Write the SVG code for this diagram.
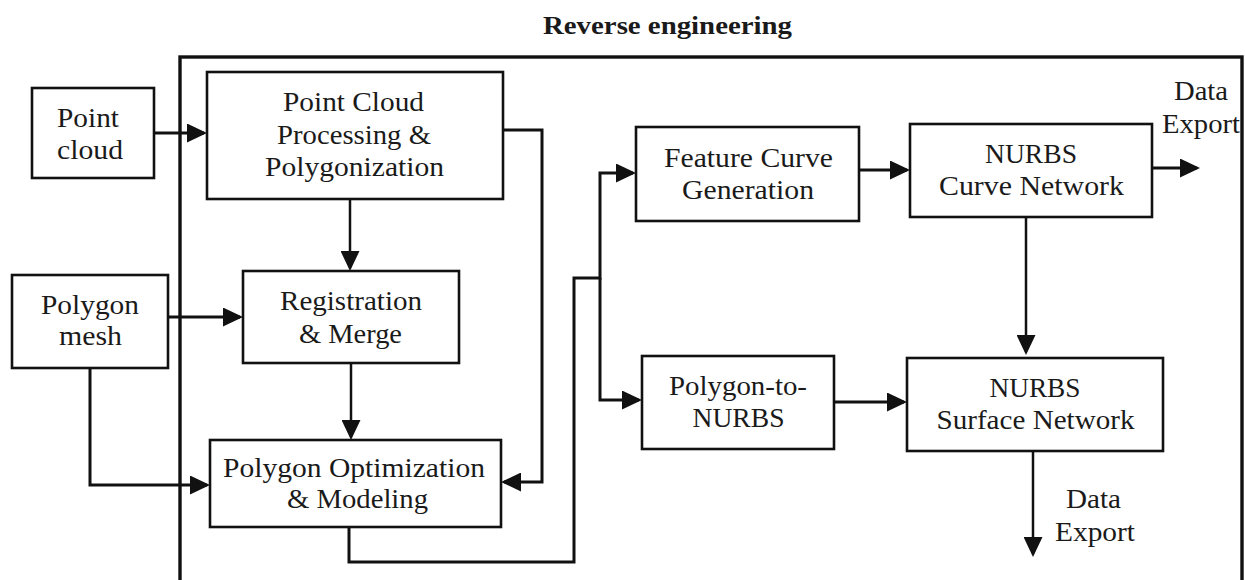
<svg xmlns="http://www.w3.org/2000/svg" width="1245" height="580" viewBox="0 0 1245 580">
  <style>
    .box { fill: #ffffff; stroke: #111111; stroke-width: 2.6; }
    .frame { fill: none; stroke: #111111; stroke-width: 3.4; }
    .t { font-family: "Liberation Serif", "Times New Roman", serif; font-size: 27px; fill: #1a1a1a; text-anchor: middle; }
    .title { font-family: "Liberation Serif", "Times New Roman", serif; font-size: 25px; font-weight: bold; fill: #1a1a1a; text-anchor: middle; }
    .c { fill: none; stroke: #111111; stroke-width: 3; stroke-linejoin: miter; }
    .cv { fill: none; stroke: #111111; stroke-width: 2.5; }
  </style>
  <defs>
    <marker id="ah" markerUnits="userSpaceOnUse" markerWidth="20" markerHeight="19" refX="17" refY="9.5" orient="auto">
      <path d="M0,0 L20,9.5 L0,19 Z" fill="#111111"/>
    </marker>
  </defs>
  <rect width="1245" height="580" fill="#ffffff"/>

  <text class="title" x="667.5" y="34" textLength="249" lengthAdjust="spacingAndGlyphs">Reverse engineering</text>

  <rect id="frame" class="frame" x="180" y="57" width="1062" height="560"/>

  <g id="connectors">
    <path class="c" d="M154,133 H204" marker-end="url(#ah)"/>
    <path class="cv" d="M350,199 V268" marker-end="url(#ah)"/>
    <path class="c" d="M168,317 H240" marker-end="url(#ah)"/>
    <path class="cv" d="M351,363 V437" marker-end="url(#ah)"/>
    <path class="c" d="M90,368 V485 H207" marker-end="url(#ah)"/>
    <path class="c" d="M503,130 H542 V482 H504" marker-end="url(#ah)"/>
    <path class="c" d="M349,527 V562 H574 V278 H600 V173 H633" marker-end="url(#ah)"/>
    <path class="c" d="M600,278 V400 H639" marker-end="url(#ah)"/>
    <path class="c" d="M859,170 H907" marker-end="url(#ah)"/>
    <path class="c" d="M1152,168 H1197" marker-end="url(#ah)"/>
    <path class="cv" d="M1026,217 V352" marker-end="url(#ah)"/>
    <path class="c" d="M834,402 H904" marker-end="url(#ah)"/>
    <path class="cv" d="M1033,451 V554" marker-end="url(#ah)"/>
  </g>

  <g id="point-cloud">
    <rect class="box" x="32" y="88" width="122" height="90"/>
    <text class="t" x="88" y="127" textLength="62" lengthAdjust="spacingAndGlyphs">Point</text>
    <text class="t" x="90" y="159" textLength="66" lengthAdjust="spacingAndGlyphs">cloud</text>
  </g>

  <g id="point-cloud-processing">
    <rect class="box" x="207" y="72" width="296" height="127"/>
    <text class="t" x="353.5" y="111" textLength="141" lengthAdjust="spacingAndGlyphs">Point Cloud</text>
    <text class="t" x="354" y="144" textLength="154" lengthAdjust="spacingAndGlyphs">Processing &amp;</text>
    <text class="t" x="354.5" y="176" textLength="179" lengthAdjust="spacingAndGlyphs">Polygonization</text>
  </g>

  <g id="polygon-mesh">
    <rect class="box" x="12" y="275" width="156" height="93"/>
    <text class="t" x="90" y="314" textLength="98" lengthAdjust="spacingAndGlyphs">Polygon</text>
    <text class="t" x="90.5" y="345" textLength="63" lengthAdjust="spacingAndGlyphs">mesh</text>
  </g>

  <g id="registration-merge">
    <rect class="box" x="243" y="271" width="216" height="92"/>
    <text class="t" x="351" y="310" textLength="142" lengthAdjust="spacingAndGlyphs">Registration</text>
    <text class="t" x="350.5" y="343" textLength="103" lengthAdjust="spacingAndGlyphs">&amp; Merge</text>
  </g>

  <g id="polygon-optimization">
    <rect class="box" x="210" y="440" width="291" height="87"/>
    <text class="t" x="354" y="477" textLength="262" lengthAdjust="spacingAndGlyphs">Polygon Optimization</text>
    <text class="t" x="357.5" y="508" textLength="141" lengthAdjust="spacingAndGlyphs">&amp; Modeling</text>
  </g>

  <g id="feature-curve">
    <rect class="box" x="636" y="127" width="223" height="94"/>
    <text class="t" x="748.5" y="167" textLength="169" lengthAdjust="spacingAndGlyphs">Feature Curve</text>
    <text class="t" x="748" y="199" textLength="132" lengthAdjust="spacingAndGlyphs">Generation</text>
  </g>

  <g id="nurbs-curve-network">
    <rect class="box" x="910" y="124" width="242" height="93"/>
    <text class="t" x="1031" y="163" textLength="92" lengthAdjust="spacingAndGlyphs">NURBS</text>
    <text class="t" x="1031.5" y="195" textLength="185" lengthAdjust="spacingAndGlyphs">Curve Network</text>
  </g>

  <g id="data-export-top">
    <text class="t" x="1201" y="100" textLength="54" lengthAdjust="spacingAndGlyphs">Data</text>
    <text class="t" x="1201" y="133" textLength="78" lengthAdjust="spacingAndGlyphs">Export</text>
  </g>

  <g id="polygon-to-nurbs">
    <rect class="box" x="642" y="356" width="192" height="93"/>
    <text class="t" x="738" y="395" textLength="138" lengthAdjust="spacingAndGlyphs">Polygon-to-</text>
    <text class="t" x="738.5" y="427" textLength="92" lengthAdjust="spacingAndGlyphs">NURBS</text>
  </g>

  <g id="nurbs-surface-network">
    <rect class="box" x="907" y="358" width="256" height="93"/>
    <text class="t" x="1035" y="397" textLength="91" lengthAdjust="spacingAndGlyphs">NURBS</text>
    <text class="t" x="1035.5" y="429" textLength="198" lengthAdjust="spacingAndGlyphs">Surface Network</text>
  </g>

  <g id="data-export-bottom">
    <text class="t" x="1093.5" y="508" textLength="55" lengthAdjust="spacingAndGlyphs">Data</text>
    <text class="t" x="1095" y="541" textLength="80" lengthAdjust="spacingAndGlyphs">Export</text>
  </g>
</svg>
